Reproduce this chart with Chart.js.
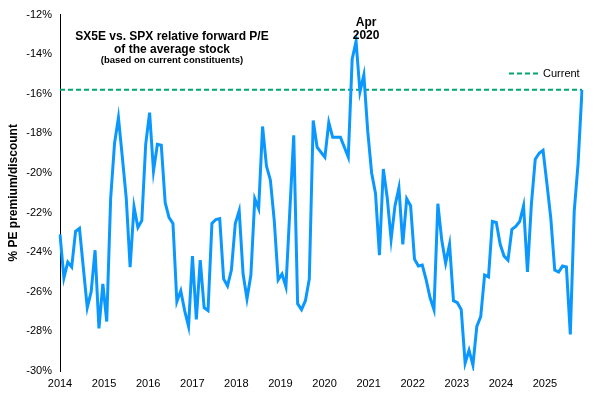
<!DOCTYPE html>
<html>
<head>
<meta charset="utf-8">
<script src="https://cdn.jsdelivr.net/npm/chart.js@4"></script>
<style>
  body { margin: 0; background: #fff; }
  canvas { display: block; }
</style>
</head>
<body>
<canvas id="peChart" width="594" height="397"></canvas>
<script>
// monthly observations, Dec 2013 .. Feb 2025
const startYear = 2013;
const startMonth = 11; // December
const monthNames = ['Jan', 'Feb', 'Mar', 'Apr', 'May', 'Jun', 'Jul', 'Aug', 'Sep', 'Oct', 'Nov', 'Dec'];

const relativePE = [
    -23.1, -25.3, -24.5, -24.75, -22.95, -22.8, -24.8, -26.8, -26.0, -23.9,
    -27.85, -25.6, -27.5, -21.3, -18.5, -17.2, -19.2, -21.25, -24.75, -21.7,
    -22.75, -22.4, -18.55, -16.95, -19.9, -18.55, -18.6, -21.5, -22.25, -22.55,
    -26.5, -25.95, -26.95, -27.75, -24.2, -27.4, -24.4, -26.8, -26.95, -22.55,
    -22.35, -22.3, -25.35, -25.7, -24.9, -22.55, -21.9, -25.1, -26.35, -25.15,
    -21.3, -21.8, -17.65, -19.65, -20.35, -22.4, -25.4, -25.1, -25.75, -21.9,
    -18.1, -26.6, -26.9, -26.45, -25.35, -17.35, -18.7, -18.95, -19.2, -17.45,
    -18.2, -18.2, -18.2, -18.7, -19.2, -14.25, -13.35, -15.9, -15.05, -17.9,
    -20.0, -21.05, -24.15, -19.8, -21.25, -23.35, -21.65, -20.75, -23.6, -21.3,
    -21.65, -24.35, -24.7, -24.65, -25.4, -26.3, -26.9, -21.55, -23.4, -24.55,
    -23.6, -26.45, -26.55, -26.9, -29.6, -28.95, -29.7, -27.75, -27.25, -25.15,
    -25.25, -22.45, -22.5, -23.6, -24.2, -24.4, -22.85, -22.7, -22.45, -21.65,
    -25.0, -21.6, -19.3, -19.0, -18.85, -20.55, -22.3, -24.9, -25.0, -24.7,
    -24.75, -28.15, -21.95, -19.5, -15.8
];

const currentValue = -15.8;
const peakLabel = 'Apr 2020';
const yTicks = { min: -30, max: -12, step: 2 };
const yearTicks = { min: 2014, max: 2025.84, step: 1 };

const titleLines = ['SX5E vs. SPX relative forward P/E', 'of the average stock', '(based on current constituents)'];

const months = [];
for (let i = 0; i < relativePE.length; i++) {
    const m = (startMonth + i) % 12;
    const y = startYear + Math.floor((startMonth + i) / 12);
    months.push(monthNames[m] + ' ' + y);
}

const FONT = '"Liberation Sans", Arial, sans-serif';
const BLUE = '#0A98FF';
const GREEN = '#00A66E';

const overlayText = {
    id: 'overlayText',
    afterDatasetsDraw(chart) {
        const { ctx, chartArea, scales } = chart;
        ctx.save();
        ctx.fillStyle = '#000';
        ctx.textAlign = 'center';
        ctx.textBaseline = 'middle';

        // title block inside the plot
        const cx = chartArea.left + 112;
        ctx.font = 'bold 12px ' + FONT;
        ctx.fillText(titleLines[0], cx, chartArea.top + 22);
        ctx.fillText(titleLines[1], cx, chartArea.top + 35);
        ctx.font = 'bold 9.5px ' + FONT;
        ctx.fillText(titleLines[2], cx, chartArea.top + 46);

        // peak label
        const idx = months.indexOf(peakLabel);
        const px = scales.x.getPixelForValue(idx) + 10;
        const py = scales.y.getPixelForValue(relativePE[idx]);
        const parts = peakLabel.split(' ');
        ctx.font = 'bold 12px ' + FONT;
        ctx.textBaseline = 'bottom';
        ctx.fillText(parts[1], px, py);
        ctx.fillText(parts[0], px, py - 13);

        // legend
        const ly = chartArea.top + 59;
        ctx.strokeStyle = GREEN;
        ctx.lineWidth = 2;
        ctx.setLineDash([5, 3]);
        ctx.beginPath();
        ctx.moveTo(chartArea.right - 73, ly);
        ctx.lineTo(chartArea.right - 42, ly);
        ctx.stroke();
        ctx.setLineDash([]);
        ctx.font = '11px ' + FONT;
        ctx.textAlign = 'left';
        ctx.textBaseline = 'middle';
        ctx.fillText('Current', chartArea.right - 39, ly);
        ctx.restore();
    }
};

const ctx = document.getElementById('peChart').getContext('2d');
const peChart = new Chart(ctx, {
    type: 'line',
    data: {
        labels: months,
        datasets: [{
            label: 'SX5E vs. SPX',
            data: relativePE,
            borderColor: BLUE,
            borderWidth: 3,
            pointRadius: 0,
            tension: 0,
            fill: false
        }, {
            label: 'Current',
            data: [{ x: months[0], y: currentValue }, { x: months[months.length - 1], y: currentValue }],
            borderColor: GREEN,
            borderWidth: 2,
            borderDash: [5, 3],
            pointRadius: 0,
            fill: false
        }]
    },
    options: {
        responsive: false,
        devicePixelRatio: 1,
        animation: false,
        layout: { padding: { top: 13, right: 12, bottom: 4, left: 0 } },
        plugins: {
            legend: { display: false },
            tooltip: { enabled: false }
        },
        scales: {
            x: {
                type: 'category',
                display: false,
                offset: false
            },
            years: {
                type: 'linear',
                position: 'bottom',
                min: yearTicks.min,
                max: yearTicks.max,
                grid: { display: false, drawTicks: false },
                border: { display: false },
                ticks: {
                    stepSize: yearTicks.step,
                    includeBounds: false,
                    maxRotation: 0,
                    padding: 6,
                    color: '#000',
                    font: { family: FONT, size: 11 },
                    callback: (v) => String(v)
                },
                afterFit: (s) => { s.height = 22; }
            },
            y: {
                min: yTicks.min,
                max: yTicks.max,
                grid: { display: false, drawTicks: false },
                border: { display: true, color: '#000', width: 1 },
                ticks: {
                    stepSize: yTicks.step,
                    padding: 8,
                    color: '#000',
                    font: { family: FONT, size: 11 },
                    callback: (v) => v + '%'
                },
                title: {
                    display: true,
                    text: '% PE premium/discount',
                    color: '#000',
                    font: { family: FONT, size: 12, weight: 'bold' },
                    padding: { top: 6, bottom: 0 }
                },
                afterFit: (s) => { s.width = 60; }
            }
        }
    },
    plugins: [overlayText]
});
</script>
</body>
</html>
